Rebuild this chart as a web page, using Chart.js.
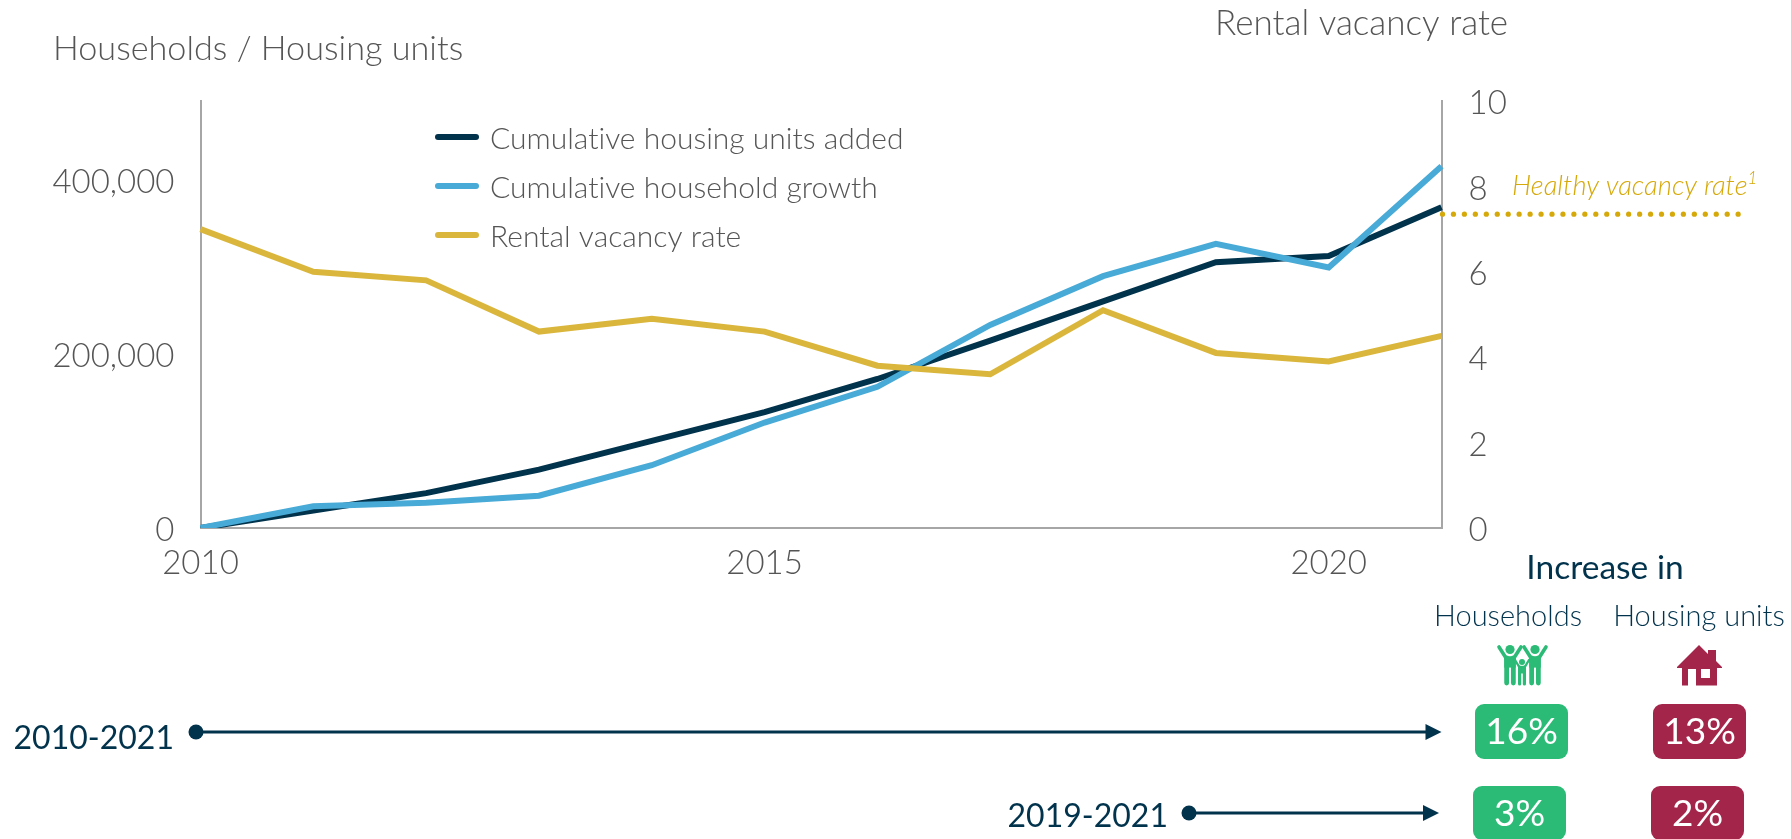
<!DOCTYPE html>
<html><head><meta charset="utf-8">
<style>html,body{margin:0;padding:0;background:#fff;overflow:hidden}canvas{display:block}</style>
<script src="https://cdn.jsdelivr.net/npm/chart.js@4"></script></head>
<body><canvas id="c" width="1791" height="839"></canvas>
<script>
const years=['2010','2011','2012','2013','2014','2015','2016','2017','2018','2019','2020','2021'];
const labeledYears=['2010','2015','2020'];
const housingUnits=[0,20000,40000,67000,100000,133000,171000,215000,260000,305000,312000,368000];
const householdGrowth=[0,25000,29000,37000,72000,121000,162000,233000,289000,326000,299000,415000];
const vacancyRate=[7.0,6.0,5.8,4.6,4.9,4.6,3.8,3.6,5.1,4.1,3.9,4.5];
const healthyRate=7.35;
const periods=['2010-2021','2019-2021'];
const householdIncrease=['16%','3%'];
const unitIncrease=['13%','2%'];
const FONT='Lato';
const GREY='#555555',NAVY='#02334D',BLUE='#48AAD6',GOLD='#DAB73C',HEALTHY='#D6A90B',GREEN='#2CBB76',RED='#A4254A';
function txt(ctx,s,x,y,size,color,align,weight,style){
  ctx.font=`${style||'normal'} ${weight||300} ${size}px ${FONT}`;
  ctx.letterSpacing='0.01px';
  ctx.fillStyle=color;ctx.textAlign=align||'left';ctx.textBaseline='alphabetic';ctx.fillText(s,x,y);
}
function rr(ctx,x,y,w,h,r,c){ctx.fillStyle=c;ctx.beginPath();ctx.roundRect(x,y,w,h,r);ctx.fill();}
function person(ctx,cx,headY,r,hlx,hrx,hy,sy,bw,bottom,armW,legW){
  ctx.beginPath();ctx.arc(cx,headY,r,0,7);ctx.fill();
  ctx.lineCap='round';ctx.lineJoin='round';ctx.strokeStyle=ctx.fillStyle;ctx.lineWidth=armW;
  ctx.beginPath();ctx.moveTo(hlx,hy);ctx.lineTo(cx-bw/2+armW/2,sy);ctx.moveTo(hrx,hy);ctx.lineTo(cx+bw/2-armW/2,sy);ctx.stroke();
  ctx.fillRect(cx-bw/2,sy-armW/2,bw,(bottom-sy)*.35+armW/2);
  ctx.lineWidth=legW;
  ctx.beginPath();ctx.moveTo(cx-bw/2+legW/2,sy);ctx.lineTo(cx-bw/2+legW/2,bottom-legW/2);ctx.moveTo(cx+bw/2-legW/2,sy);ctx.lineTo(cx+bw/2-legW/2,bottom-legW/2);ctx.stroke();
}
const decor={id:'decor',
 beforeDraw(chart){
  ['y','y1'].forEach(id=>{
    chart.scales[id].getLabelItems().forEach(it=>{
      if(!it._shifted){it._shifted=true;it.options.translation=[it.options.translation[0],it.options.translation[1]+2.5];}
    });
  });
 },
 afterDatasetsDraw(chart){
  const ctx=chart.ctx,y1=chart.scales.y1,a=chart.chartArea;
  ctx.save();
  const hy=y1.getPixelForValue(healthyRate);
  ctx.fillStyle=HEALTHY;
  for(let x=a.right+1;x<=1742;x+=10.95){ctx.beginPath();ctx.arc(x,hy,2.6,0,7);ctx.fill();}
  txt(ctx,'Healthy vacancy rate',1512,195,27.4,HEALTHY,'left',300,'italic');
  const hw=ctx.measureText('Healthy vacancy rate').width;
  txt(ctx,'1',1512+hw,184,17,HEALTHY,'left',300,'italic');
  txt(ctx,'Households / Housing units',53,60,34.2,GREY);
  txt(ctx,'Rental vacancy rate',1215,35,35,GREY);
  const ly=[137,186,235];
  chart.data.datasets.forEach((d,i)=>{
    ctx.strokeStyle=d.borderColor;ctx.lineWidth=6;ctx.lineCap='round';
    ctx.beginPath();ctx.moveTo(438,ly[i]);ctx.lineTo(476,ly[i]);ctx.stroke();
    txt(ctx,d.label,490,ly[i]+12,30,GREY);
  });
  txt(ctx,'Increase in',1605,579,33.5,NAVY,'center',400);
  txt(ctx,'Households',1508,626,29,NAVY,'center');
  txt(ctx,'Housing units',1699,626,29,NAVY,'center');
  ctx.fillStyle=GREEN;
  person(ctx,1510,649.5,4.6,1499,1521,647,658,11.5,685.5,3.6,4.8);
  person(ctx,1535,649.5,4.6,1524,1546,647,658,11.5,685.5,3.6,4.8);
  person(ctx,1522,662,3,1515,1529,660,667,8,685.5,2.4,3.2);
  ctx.fillStyle=RED;
  ctx.beginPath();ctx.moveTo(1677,667);ctx.lineTo(1699,645);ctx.lineTo(1708,654);ctx.lineTo(1708,650);ctx.lineTo(1716,650);ctx.lineTo(1716,661);ctx.lineTo(1722,667);ctx.lineTo(1722,668);ctx.lineTo(1717,668);ctx.lineTo(1717,685.5);ctx.lineTo(1682,685.5);ctx.lineTo(1682,668);ctx.lineTo(1677,668);ctx.closePath();ctx.fill();
  ctx.fillStyle='#fff';ctx.fillRect(1688,669,8,17);ctx.fillRect(1701,669,9,9);
  const rows=[{y:732,tx:174,ty:749,dot:196,end:1441.5,bx:1475,bx2:1653,by:704,bh:55},{y:813,tx:1168,ty:827,dot:1189,end:1439,bx:1473,bx2:1651,by:786,bh:54}];
  rows.forEach((r,i)=>{
    ctx.strokeStyle=NAVY;ctx.fillStyle=NAVY;ctx.lineWidth=3;ctx.lineCap='butt';
    ctx.beginPath();ctx.moveTo(r.dot,r.y);ctx.lineTo(r.end-10,r.y);ctx.stroke();
    ctx.beginPath();ctx.arc(r.dot,r.y,7.5,0,7);ctx.fill();
    ctx.beginPath();ctx.moveTo(r.end,r.y);ctx.lineTo(r.end-16,r.y-8);ctx.lineTo(r.end-16,r.y+8);ctx.closePath();ctx.fill();
    txt(ctx,periods[i],r.tx,r.ty,32,NAVY,'right',400);
    rr(ctx,r.bx,r.by,93,r.bh,9,GREEN);rr(ctx,r.bx2,r.by,93,r.bh,9,RED);
    txt(ctx,householdIncrease[i],r.bx+46.5,r.by+40,37,'#fff','center',400);
    txt(ctx,unitIncrease[i],r.bx2+46.5,r.by+40,37,'#fff','center',400);
  });
  ctx.restore();
}};
new Chart(document.getElementById('c'),{
  type:'line',
  data:{labels:years,datasets:[
    {label:'Cumulative housing units added',data:housingUnits,borderColor:NAVY,yAxisID:'y',order:3},
    {label:'Cumulative household growth',data:householdGrowth,borderColor:BLUE,yAxisID:'y',order:2},
    {label:'Rental vacancy rate',data:vacancyRate,borderColor:GOLD,yAxisID:'y1',order:1}
  ]},
  options:{
    responsive:false,animation:false,
    layout:{padding:{top:101}},
    elements:{point:{radius:0},line:{borderWidth:6,tension:0,borderCapStyle:'butt',borderJoinStyle:'miter'}},
    plugins:{legend:{display:false},tooltip:{enabled:false},title:{display:false}},
    scales:{
      x:{type:'category',offset:false,
        grid:{display:false,drawTicks:false},border:{color:'#A6A6A6',width:2},
        afterFit(s){s.height=839-528;},
        ticks:{autoSkip:false,maxRotation:0,padding:16,color:GREY,font:{family:FONT,size:33,weight:300},
          callback(v){const l=this.getLabelForValue(v);return labeledYears.includes(l)?l:'';}}},
      y:{position:'left',min:0,max:490000,
        grid:{display:false,drawTicks:false},border:{color:'#A6A6A6',width:2},
        afterFit(s){s.width=200.5;},
        afterBuildTicks(s){s.ticks=[0,200000,400000].map(v=>({value:v}));},
        ticks:{padding:26,color:GREY,font:{family:FONT,size:33,weight:300},callback:v=>v.toLocaleString('en-US')}},
      y1:{position:'right',min:0,max:10,
        grid:{display:false,drawTicks:false},border:{color:'#A6A6A6',width:2},
        afterFit(s){s.width=1791-1441.5;},
        ticks:{stepSize:2,padding:27,color:GREY,font:{family:FONT,size:33,weight:300}}}
    }
  },
  plugins:[decor]
});
</script></body></html>
